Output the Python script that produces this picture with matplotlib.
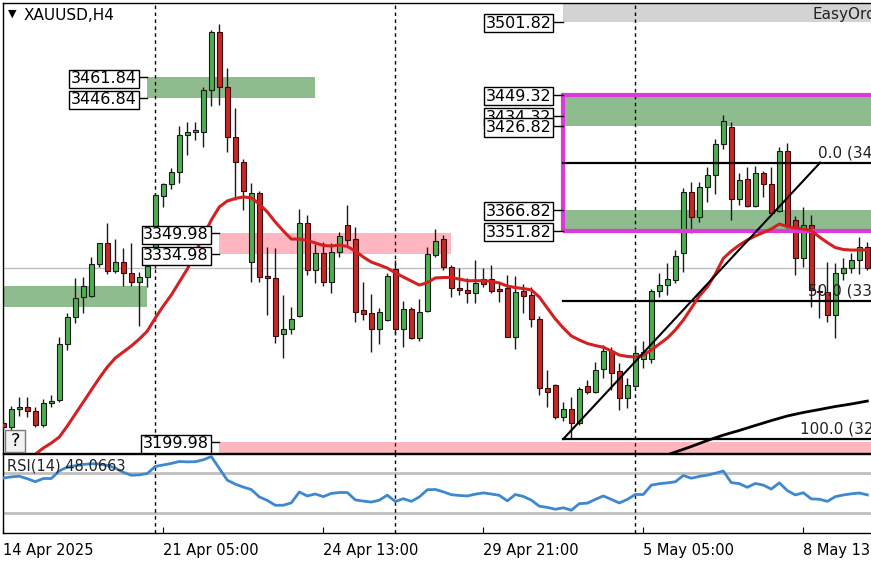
import matplotlib
matplotlib.use('Agg')
import matplotlib.pyplot as plt
from matplotlib.patches import Rectangle
import numpy as np

# XAUUSD H4 candles, bar index 0..108
opens = [3213.8, 3211.2, 3223.7, 3225.1, 3222.7, 3212.4, 3228.0, 3230.3, 3270.3, 3289.7,
         3304.0, 3305.0, 3327.7, 3342.8, 3323.1, 3329.3, 3321.2, 3314.8, 3318.8, 3327.2,
         3376.9, 3385.1, 3394.1, 3420.2, 3422.4, 3422.8, 3452.7, 3494.1, 3454.7, 3418.8,
         3401.3, 3329.1, 3378.6, 3319.3, 3317.6, 3277.5, 3281.1, 3290.8, 3357.1, 3323.6,
         3335.6, 3314.8, 3336.5, 3355.9, 3345.6, 3294.9, 3292.5, 3281.1, 3287.7, 3324.1,
         3281.1, 3295.6, 3274.6, 3294.2, 3334.4, 3345.6, 3325.5, 3310.9, 3309.3, 3306.9,
         3316.9, 3316.9, 3310.0, 3310.5, 3275.7, 3308.5, 3305.7, 3288.2, 3239.2, 3241.1,
         3218.4, 3223.7, 3213.6, 3240.4, 3236.3, 3252.4, 3265.7, 3251.1, 3231.6, 3240.6,
         3259.5, 3259.5, 3308.8, 3312.8, 3316.4, 3335.6, 3379.3, 3361.8, 3382.9, 3391.7,
         3413.8, 3426.0, 3374.3, 3388.7, 3369.5, 3393.0, 3385.3, 3365.9, 3409.0, 3359.5,
         3332.0, 3355.9, 3308.5, 3308.0, 3291.3, 3321.7, 3324.8, 3330.8, 3340.3]
highs = [3216.7, 3226.0, 3232.7, 3232.3, 3225.5, 3230.8, 3233.9, 3275.7, 3292.5, 3317.6,
         3318.4, 3332.7, 3343.2, 3357.5, 3345.6, 3339.2, 3342.8, 3322.4, 3329.6, 3378.8,
         3386.2, 3396.6, 3426.9, 3429.6, 3430.0, 3454.7, 3495.8, 3500.1, 3468.3, 3439.6,
         3403.0, 3386.2, 3380.3, 3340.3, 3339.2, 3305.7, 3297.3, 3367.1, 3363.1, 3342.0,
         3343.9, 3342.8, 3351.1, 3370.2, 3354.2, 3314.8, 3306.2, 3296.1, 3321.2, 3330.8,
         3301.6, 3297.3, 3302.6, 3339.9, 3352.8, 3348.7, 3327.2, 3324.8, 3317.6, 3330.8,
         3324.8, 3327.2, 3314.1, 3320.0, 3319.3, 3313.6, 3311.6, 3290.6, 3251.9, 3241.6,
         3229.1, 3232.7, 3239.5, 3244.7, 3257.8, 3269.8, 3268.6, 3256.7, 3245.9, 3269.8,
         3272.7, 3309.8, 3321.2, 3328.4, 3337.9, 3382.2, 3386.9, 3386.9, 3397.7, 3417.4,
         3434.8, 3430.0, 3393.4, 3397.7, 3398.2, 3394.6, 3397.7, 3412.1, 3414.5, 3362.3,
         3369.0, 3363.1, 3312.8, 3329.6, 3328.4, 3332.0, 3335.6, 3347.1, 3343.9]
lows = [3208.8, 3208.8, 3218.9, 3218.4, 3211.2, 3211.0, 3225.5, 3229.1, 3266.2, 3285.8,
        3292.5, 3304.4, 3326.0, 3320.7, 3321.2, 3312.1, 3312.1, 3283.4, 3311.2, 3325.0,
        3369.0, 3381.5, 3386.2, 3406.1, 3416.9, 3411.6, 3441.3, 3442.0, 3408.5, 3373.8,
        3366.6, 3315.2, 3315.2, 3291.3, 3271.0, 3260.3, 3277.7, 3290.1, 3320.0, 3314.5,
        3312.3, 3306.9, 3333.1, 3341.5, 3286.5, 3287.7, 3265.0, 3270.3, 3287.2, 3277.7,
        3268.6, 3273.9, 3272.9, 3293.7, 3333.1, 3323.6, 3304.4, 3305.7, 3299.7, 3299.7,
        3311.6, 3307.3, 3300.9, 3275.7, 3266.7, 3292.5, 3282.9, 3233.9, 3225.5, 3216.5,
        3215.5, 3202.5, 3212.4, 3235.0, 3235.6, 3245.9, 3237.5, 3223.2, 3224.4, 3239.9,
        3253.1, 3256.7, 3304.4, 3305.7, 3314.5, 3322.4, 3350.0, 3358.2, 3372.6, 3377.9,
        3410.2, 3359.5, 3370.2, 3369.0, 3369.0, 3376.2, 3363.5, 3365.4, 3353.7, 3320.0,
        3326.0, 3297.3, 3289.2, 3286.5, 3274.6, 3316.4, 3321.2, 3320.7, 3323.5]
closes = [3211.0, 3223.7, 3225.1, 3222.7, 3212.4, 3228.0, 3229.6, 3270.5, 3290.1, 3303.3,
          3312.1, 3327.7, 3342.8, 3323.1, 3329.3, 3321.2, 3314.8, 3318.8, 3326.5, 3377.4,
          3385.3, 3394.1, 3420.2, 3422.4, 3424.0, 3452.7, 3494.1, 3454.7, 3418.8, 3401.3,
          3380.5, 3378.6, 3318.8, 3317.6, 3276.5, 3281.1, 3288.2, 3357.1, 3323.6, 3335.6,
          3315.2, 3336.3, 3348.2, 3345.1, 3293.7, 3291.8, 3281.1, 3293.3, 3319.3, 3281.1,
          3295.4, 3274.6, 3293.3, 3334.9, 3344.4, 3325.5, 3310.5, 3309.0, 3306.9, 3314.1,
          3313.6, 3308.5, 3308.5, 3275.7, 3308.0, 3305.2, 3288.2, 3238.7, 3236.3, 3218.4,
          3223.7, 3214.1, 3238.0, 3236.3, 3251.9, 3265.7, 3249.9, 3231.6, 3241.1, 3264.3,
          3264.6, 3308.5, 3312.8, 3316.9, 3333.6, 3379.3, 3361.8, 3382.9, 3391.7, 3413.8,
          3430.5, 3374.3, 3388.2, 3369.5, 3393.0, 3385.3, 3364.3, 3409.0, 3355.9, 3332.0,
          3355.9, 3309.3, 3307.6, 3291.3, 3321.7, 3324.8, 3330.8, 3340.3, 3324.8]

# red moving average, bars 4..108
ma_red = [3191.5, 3195.9, 3199.5, 3203.8, 3211.7, 3220.3, 3228.9, 3237.5, 3246.1, 3254.0,
          3260.5, 3264.8, 3269.1, 3274.1, 3279.8, 3289.2, 3297.8, 3305.7, 3315.0, 3324.3,
          3335.8, 3348.0, 3359.5, 3368.8, 3373.1, 3374.9, 3376.0, 3375.3, 3371.0, 3365.2,
          3358.0, 3351.6, 3345.8, 3345.8, 3344.8, 3343.0, 3341.2, 3340.8, 3341.5, 3340.5,
          3337.2, 3332.9, 3329.3, 3327.2, 3325.0, 3321.5, 3318.6, 3315.7, 3312.8, 3314.5,
          3317.9, 3318.2, 3318.2, 3317.1, 3315.9, 3315.9, 3315.9, 3315.4, 3314.3, 3312.1,
          3311.0, 3310.3, 3309.3, 3304.2, 3296.3, 3288.5, 3282.0, 3276.3, 3273.4, 3270.9,
          3269.4, 3268.2, 3265.5, 3262.6, 3261.6, 3261.2, 3262.6, 3266.2, 3270.5, 3274.8,
          3280.6, 3287.7, 3296.3, 3305.0, 3311.4, 3320.7, 3331.9, 3337.2, 3341.5, 3345.1,
          3348.0, 3350.5, 3353.0, 3356.6, 3354.7, 3353.7, 3353.0, 3351.9, 3347.3, 3343.3,
          3339.7, 3338.3, 3337.9, 3337.9, 3337.9]
ma_red_start = 4

# slow black moving average
ma_black_x = [80, 82, 84, 86, 88, 90, 92, 94, 96, 98, 100, 102, 104, 106, 108]
ma_black = [3185.0, 3189.0, 3193.0, 3197.0, 3201.3, 3205.2, 3208.5, 3212.1, 3215.6, 3218.9,
            3221.4, 3223.5, 3225.7, 3227.5, 3229.6]

rsi = [65.2, 66.4, 67.0, 64.5, 61.5, 64.7, 64.7, 72.5, 76.3, 77.7,
       79.0, 79.7, 79.5, 78.0, 75.3, 71.0, 68.0, 68.4, 69.8, 77.0,
       78.5, 80.0, 82.0, 81.6, 81.8, 83.7, 87.0, 75.0, 63.0, 59.0,
       56.0, 53.5, 46.0, 42.5, 37.5, 37.6, 40.0, 51.0, 47.0, 49.0,
       46.3, 49.6, 50.5, 50.5, 43.0, 41.8, 40.8, 42.7, 47.8, 41.4,
       44.2, 41.5, 46.0, 53.3, 53.6, 51.2, 48.3, 47.5, 47.0, 48.8,
       50.1, 49.0, 47.6, 42.0, 48.5, 46.5, 42.8, 36.6, 35.4, 33.5,
       35.0, 32.5, 39.2, 39.7, 43.5, 47.0, 43.5, 39.9, 43.5, 48.5,
       48.5, 58.0, 59.4, 60.3, 61.4, 67.8, 65.0, 66.8, 68.2, 70.0,
       72.3, 60.5, 59.5, 55.8, 59.7, 58.0, 54.0, 60.3, 52.5, 48.0,
       50.3, 44.0, 43.7, 41.5, 46.3, 48.0, 49.2, 50.0, 48.1]

tick_bars = [0, 20, 40, 60, 80, 100]
tick_labels = ['14 Apr 2025', '21 Apr 05:00', '24 Apr 13:00', '29 Apr 21:00',
               '5 May 05:00', '8 May 13:00']
separator_bars = [19, 49, 79]

fib_levels = [3400.60, 3301.51, 3202.42]
fib_names = ['0.0', '50.0', '100.0']
bid_price = 3325.0

W, H = 871, 562
fig = plt.figure(figsize=(W / 100, H / 100), dpi=100)
fig.patch.set_facecolor('white')

def fx(px):
    return px / W

def fy(py):
    return 1 - py / H

ax = fig.add_axes([fx(3), fy(452.5), fx(871) - fx(3), fy(3) - fy(452.5)])
ax_rsi = fig.add_axes([fx(3), fy(533), fx(871) - fx(3), fy(453.5) - fy(533)], sharex=ax)

xlim = (-0.04, 108.46)
ax.set_xlim(*xlim)
ax.set_ylim(3192.7, 3515.1)

# zones
def zone(x0, x1, lo, hi, color, z=1):
    ax.add_patch(Rectangle((x0, lo), x1 - x0, hi - lo, facecolor=color,
                           edgecolor='none', zorder=z))

green = '#8fbc8f'
pink = '#ffb6c1'
zone(-1, 18, 3297.0, 3312.0, green)
zone(18, 39, 3446.84, 3461.84, green)
zone(27, 56, 3334.98, 3349.98, pink)
zone(27, 130, 3184.98, 3199.98, pink)
zone(70, 130, 3501.82, 3516.82, '#d3d3d3')
zone(70, 130, 3426.82, 3449.32, green)
zone(70, 130, 3351.82, 3366.82, green)
ax.add_patch(Rectangle((70, 3351.82), 60, 3449.32 - 3351.82, facecolor='none',
                       edgecolor='#d93ad9', lw=3, zorder=4))
ax.text(101.1, 3507.0, 'EasyOrder', fontsize=11, va='center', ha='left',
        color='#222222', zorder=5, clip_on=True)

ax.axhline(bid_price, color='#c0c0c0', lw=1, zorder=1)

for sb in separator_bars:
    ax.axvline(sb, color='black', lw=1, ls=(0, (2.5, 2.5)), zorder=2)
    ax_rsi.axvline(sb, color='black', lw=1, ls=(0, (2.5, 2.5)), zorder=2)

# candles
x = np.arange(len(opens))
o = np.array(opens)
c = np.array(closes)
up = c >= o
ax.vlines(x, lows, highs, color='#1a1a1a', lw=1, zorder=3)
body = np.maximum(np.abs(c - o), 1.2)
ax.bar(x[up], body[up], bottom=o[up], width=0.68, color='#4caf50',
       edgecolor='#1a1a1a', lw=0.8, zorder=3.5)
ax.bar(x[~up], body[~up], bottom=c[~up], width=0.68, color='#c62828',
       edgecolor='#3a0a0a', lw=0.8, zorder=3.5)

ax.plot(np.arange(ma_red_start, ma_red_start + len(ma_red)), ma_red,
        color='#d42020', lw=2.2, zorder=5, solid_capstyle='round')
ax.plot(ma_black_x, ma_black, color='black', lw=2, zorder=5)

# fibonacci
ax.plot([70, 102.1], [fib_levels[2], fib_levels[0]], color='black', lw=1.5, zorder=5)
fib_text_x = [101.8, 100.6, 99.6]
for lvl, name, tx in zip(fib_levels, fib_names, fib_text_x):
    ax.plot([70, 130], [lvl, lvl], color='black', lw=1.6, zorder=4.5)
    ax.text(tx, lvl + 1.5, f'{name} ({lvl:.2f})', fontsize=11, ha='left',
            va='bottom', color='#222222', zorder=6, clip_on=True)

# price labels
def price_label(price, tx, zone_x):
    ax.plot([tx, zone_x], [price, price], color='black', lw=1, zorder=6)
    ax.text(tx - 0.2, price, f'{price:.2f}', fontsize=11.5, ha='right',
            va='center_baseline', zorder=7,
            bbox=dict(boxstyle='square,pad=0.1', fc='white', ec='black', lw=1))

for p in [3461.84, 3446.84]:
    price_label(p, 16.9, 18)
for p in [3349.98, 3334.98, 3199.98]:
    price_label(p, 25.9, 27)
for p in [3501.82, 3449.32, 3434.32, 3426.82, 3366.82, 3351.82]:
    price_label(p, 68.7, 70)

for a in (ax, ax_rsi):
    a.spines['right'].set_visible(False)
    for s in ('left', 'top', 'bottom'):
        a.spines[s].set_color('black')
        a.spines[s].set_linewidth(1)
    a.set_yticks([])
    a.set_facecolor('white')

ax.tick_params(axis='x', bottom=False, labelbottom=False)

# RSI panel
ax_rsi.set_ylim(9.4, 90.1)
ax_rsi.axhline(70, color='#c0c0c0', lw=2, zorder=1)
ax_rsi.axhline(30, color='#c0c0c0', lw=2, zorder=1)
ax_rsi.plot(x, rsi, color='#3d88d0', lw=2, zorder=3)
ax_rsi.text(0.5, 77.4, 'RSI(14) 48.0663', fontsize=10.5, va='center', ha='left',
            color='#222222', zorder=4)
ax_rsi.set_xticks(tick_bars)
ax_rsi.set_xticklabels(tick_labels, ha='left', fontsize=10.5)
ax_rsi.tick_params(axis='x', direction='in', length=4, pad=7, colors='black')
ax_rsi.set_xlim(*xlim)

# header and help button
fig.text(fx(8), fy(14), '\u25bc', fontsize=8, va='center', ha='left')
fig.text(fx(24), fy(15), 'XAUUSD,H4', fontsize=11, va='center', ha='left')
fig.patches.append(Rectangle((fx(5), fy(452)), fx(20), fy(430) - fy(452),
                             transform=fig.transFigure, facecolor='#f2f2f2',
                             edgecolor='#7a7a7a', lw=1, zorder=8))
fig.text(fx(15), fy(441), '?', fontsize=13, va='center', ha='center', zorder=9)

fig.savefig('out.png', dpi=100)
